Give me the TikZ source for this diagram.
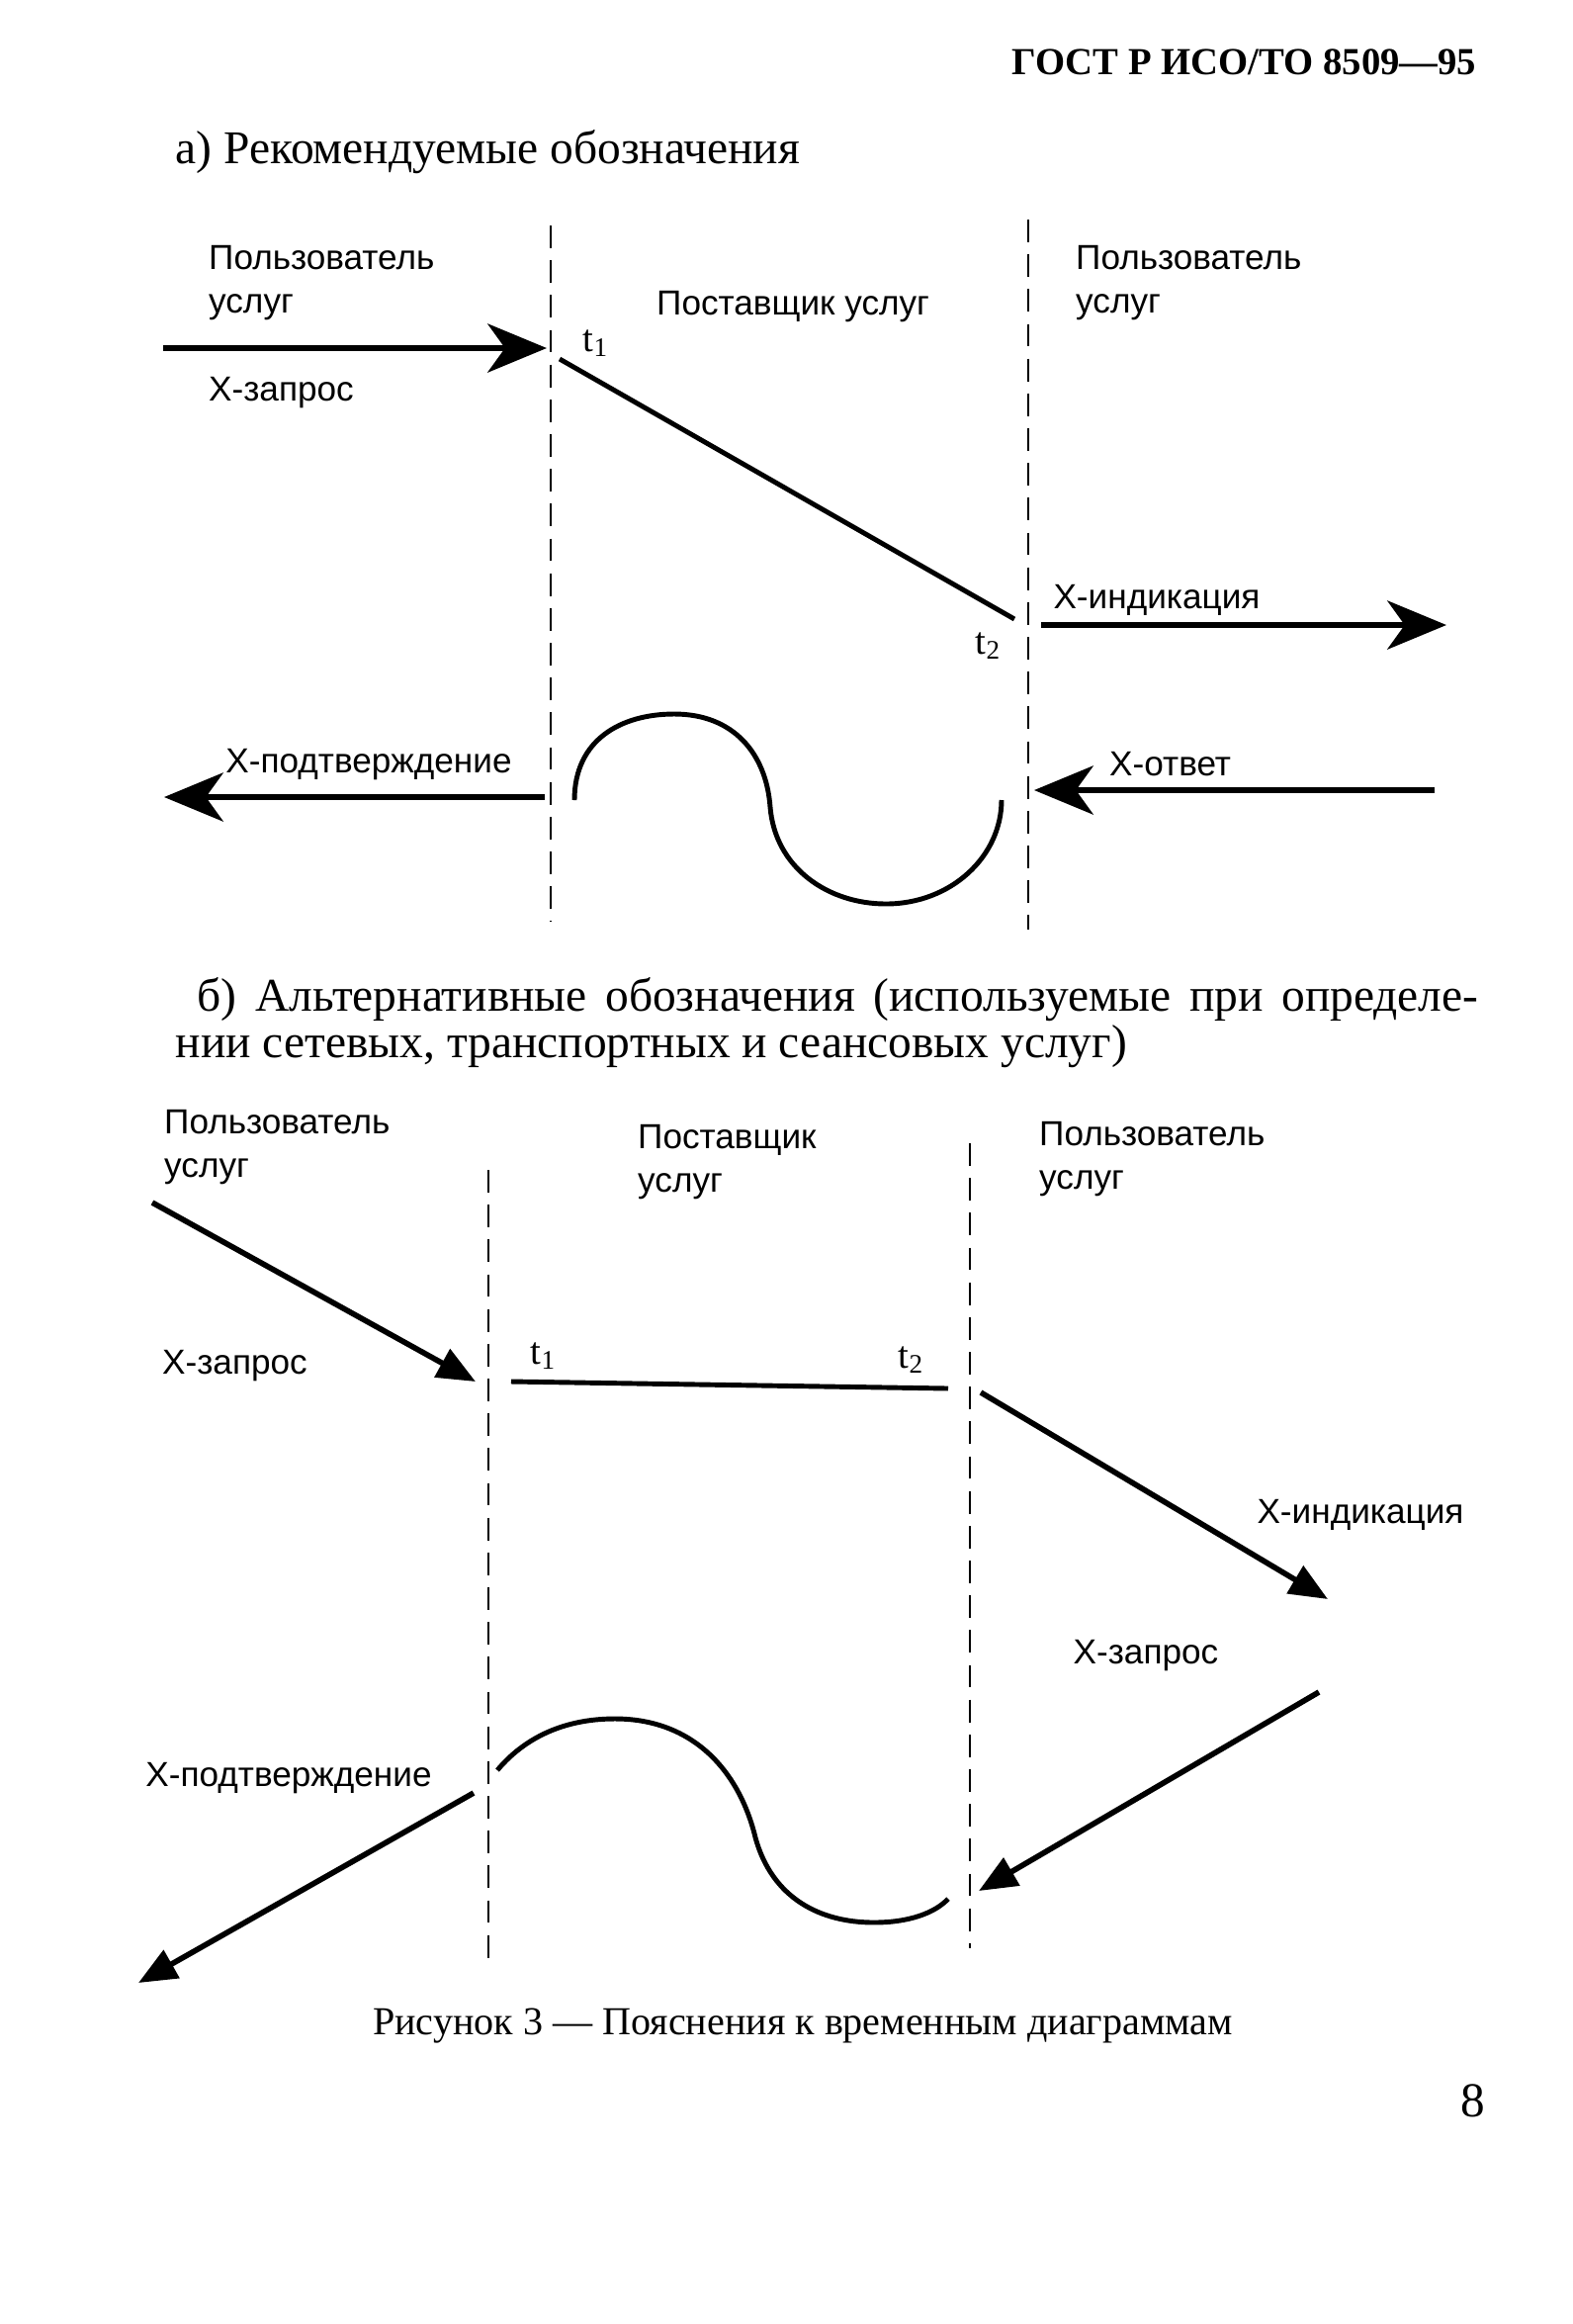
\documentclass[tikz,border=0pt]{standalone}
\usepackage{fontspec}
\setmainfont{Liberation Serif}
\newfontfamily\lblfont{Liberation Sans}
\usetikzlibrary{arrows.meta}
\tikzset{
  lbl/.style={font=\lblfont\fontsize{10}{12.5}\selectfont,align=left,inner sep=1pt},
  tlbl/.style={font=\fontsize{11}{12}\selectfont,inner sep=1pt},
  ttl/.style={font=\fontsize{13.5}{16}\selectfont,inner sep=0pt,anchor=west},
  bound/.style={line width=0.6pt,dash pattern=on 6.5pt off 3.5pt},
  bigarr/.style={-{Stealth[length=17pt,width=14pt,inset=5pt]},line width=1.7pt},
  smarr/.style={-{Triangle[length=11pt,width=9pt]},line width=1.6pt},
  flow/.style={line width=1.4pt},
}

\begin{document}
\begin{tikzpicture}[x=0.01cm,y=-0.01cm]
\useasboundingbox (0,0) rectangle (1591,2350);
% page head
\node[font=\bfseries\fontsize{11}{13}\selectfont,anchor=east,inner sep=0pt] (head) at (1494,63) {ГОСТ Р ИСО/ТО 8509—95};
\node[ttl] (tta) at (177,154) {а) Рекомендуемые обозначения};

% a) recommended
\coordinate (aL1) at (557,228); \coordinate (aL2) at (557,932);
\coordinate (aR1) at (1040,222); \coordinate (aR2) at (1040,940);
\draw[bound] (aL1) -- (aL2);
\draw[bound] (aR1) -- (aR2);
\node[lbl,anchor=west] (aul) at (207,286) {Пользователь\\услуг};
\node[lbl,anchor=west] (apr) at (660,310) {Поставщик услуг};
\node[lbl,anchor=west] (aur) at (1084,286) {Пользователь\\услуг};

\coordinate (areq0) at (165,352); \coordinate (areq1) at (553,352);
\draw[bigarr] (areq0) -- (areq1);
\node[lbl,anchor=west] (areqt) at (207,397) {X-запрос};
\node[tlbl] (at1) at (603,347) {t\textsubscript{1}};
\coordinate (ad0) at (566,363); \coordinate (ad1) at (1026,626);
\draw[flow] (ad0) -- (ad1);
\node[tlbl] (at2) at (1000,653) {t\textsubscript{2}};

\coordinate (aind0) at (1053,632); \coordinate (aind1) at (1463,632);
\draw[bigarr] (aind0) -- (aind1);
\node[lbl] (aindt) at (1170,607) {X-индикация};

\draw[flow] (581,809) .. controls (581,748) and (628,722) .. (682,722)
  .. controls (742,722) and (775,762) .. (779,816)
  .. controls (784,878) and (838,914) .. (896,914)
  .. controls (962,914) and (1013,866) .. (1013,809);

\coordinate (acnf0) at (551,806); \coordinate (acnf1) at (166,806);
\draw[bigarr] (acnf0) -- (acnf1);
\node[lbl] (acnft) at (373,773) {X-подтверждение};
\coordinate (arsp0) at (1451,799); \coordinate (arsp1) at (1046,799);
\draw[bigarr] (arsp0) -- (arsp1);
\node[lbl,anchor=west] (arspt) at (1118,773) {X-ответ};

% b) alternative
\node[ttl] (ttb1) at (199,1011) {\makebox[12.95cm][s]{б) Альтернативные обозначения (используемые при определе-}};
\node[ttl] (ttb2) at (177,1058) {нии сетевых, транспортных и сеансовых услуг)};

\coordinate (bL1) at (494,1183); \coordinate (bL2) at (494,1980);
\coordinate (bR1) at (981,1156); \coordinate (bR2) at (981,1970);
\draw[bound] (bL1) -- (bL2);
\draw[bound] (bR1) -- (bR2);
\node[lbl,anchor=west] (bul) at (162,1160) {Пользователь\\услуг};
\node[lbl,anchor=west] (bpr) at (641,1175) {Поставщик\\услуг};
\node[lbl,anchor=west] (bur) at (1047,1172) {Пользователь\\услуг};

\coordinate (breq0) at (154,1216); \coordinate (breq1) at (481,1397);
\draw[smarr] (breq0) -- (breq1);
\node[lbl,anchor=west] (breqt) at (160,1381) {X-запрос};
\node[tlbl] (bt1) at (550,1371) {t\textsubscript{1}};
\node[tlbl] (bt2) at (922,1375) {t\textsubscript{2}};
\coordinate (bh0) at (517,1397); \coordinate (bh1) at (959,1404);
\draw[flow] (bh0) -- (bh1);

\coordinate (bind0) at (992,1408); \coordinate (bind1) at (1343,1617);
\draw[smarr] (bind0) -- (bind1);
\node[lbl] (bindt) at (1376,1532) {X-индикация};
\node[lbl] (breq2t) at (1159,1674) {X-запрос};
\coordinate (breq20) at (1334,1711); \coordinate (breq21) at (990,1912);
\draw[smarr] (breq20) -- (breq21);

\draw[flow] (503,1790) .. controls (535,1752) and (578,1738) .. (622,1738)
  .. controls (702,1738) and (748,1792) .. (764,1858)
  .. controls (781,1920) and (830,1944) .. (884,1944)
  .. controls (920,1944) and (946,1934) .. (959,1920);

\coordinate (bcnf0) at (479,1813); \coordinate (bcnf1) at (140,2005);
\draw[smarr] (bcnf0) -- (bcnf1);
\node[lbl] (bcnft) at (292,1798) {X-подтверждение};

\node[font=\fontsize{11.4}{14}\selectfont,inner sep=0pt] (cap) at (812,2049) {Рисунок 3 — Пояснения к временным диаграммам};
\node[font=\fontsize{14}{16}\selectfont,inner sep=0pt] (pg) at (1490,2124) {8};
\end{tikzpicture}
\end{document}
